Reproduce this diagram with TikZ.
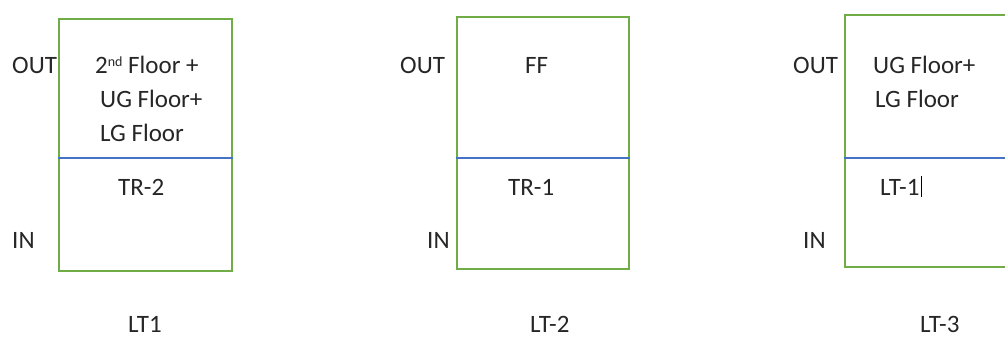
\documentclass[tikz,border=0pt]{standalone}
\usepackage{fontspec}
\setmainfont{Carlito}
\begin{document}
\begin{tikzpicture}[x=1pt,y=-1pt,
  box/.style={draw=boxgreen, line width=1.6pt, rectangle, minimum width=173pt, minimum height=252pt, anchor=north west, inner sep=0pt},
  divider/.style={draw=divblue, line width=1.3pt},
  txt/.style={anchor=base west, inner sep=0pt, text=txtcol, font=\fontsize{25}{30}\selectfont},
  cursor/.style={draw=black, line width=1pt}]
\definecolor{boxgreen}{RGB}{112,173,71}
\definecolor{divblue}{RGB}{68,114,196}
\definecolor{txtcol}{RGB}{38,38,38}
\clip (0,0) rectangle (1005,338);
% boxes
\node[box] (b1) at (58,18) {};
\node[box, minimum width=172pt] (b2) at (456,16) {};
\node[box] (b3) at (844,14) {};
\draw[divider] ([yshift=-140pt]b1.north west) -- ([yshift=-140pt]b1.north east);
\draw[divider] ([yshift=-142pt]b2.north west) -- ([yshift=-142pt]b2.north east);
\draw[divider] ([yshift=-144pt]b3.north west) -- ([yshift=-144pt]b3.north east);
% LT1
\node[txt] (o1) at (12,73) {OUT};
\node[txt] (f1a) at (95,73) {2{\fontsize{14}{14}\selectfont\raisebox{7pt}{nd}} Floor +};
\node[txt] (f1b) at (100,107) {UG Floor+};
\node[txt] (f1c) at (100,141) {LG Floor};
\node[txt] (t1) at (118,195) {TR-2};
\node[txt] (i1) at (12,248) {IN};
\node[txt] (l1) at (128,332) {LT1};
% LT-2
\node[txt] (o2) at (400,73) {OUT};
\node[txt] (f2) at (525,73) {FF};
\node[txt] (t2) at (508,195) {TR-1};
\node[txt] (i2) at (427,248) {IN};
\node[txt] (l2) at (530,332) {LT-2};
% LT-3
\node[txt] (o3) at (793,73) {OUT};
\node[txt] (f3a) at (873,73) {UG Floor+};
\node[txt] (f3b) at (875,107) {LG Floor};
\node[txt] (t3) at (880,195) {LT-1};
\draw[cursor] ([xshift=2pt,yshift=-2pt]t3.south east) -- ([xshift=2pt,yshift=3pt]t3.north east);
\node[txt] (i3) at (803,248) {IN};
\node[txt] (l3) at (920,332) {LT-3};
\end{tikzpicture}
\end{document}
